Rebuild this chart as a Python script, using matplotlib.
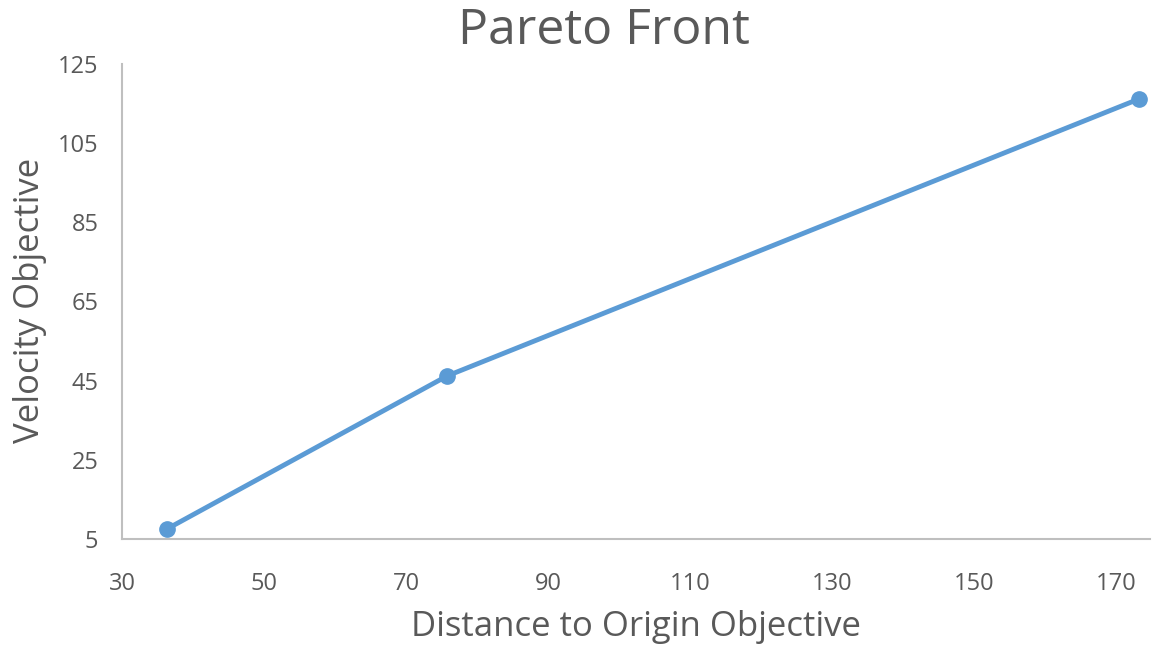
import matplotlib
matplotlib.use('Agg')
import matplotlib.pyplot as plt

# Pareto front points
distance = [36.3, 75.8, 173.3]
velocity = [7.5, 46.2, 116.2]

x_ticks = [30, 50, 70, 90, 110, 130, 150, 170]
y_ticks = [5, 25, 45, 65, 85, 105, 125]

plt.rcParams['font.family'] = ['Open Sans', 'DejaVu Sans']
text_color = '#595959'
line_color = '#5B9BD5'

fig = plt.figure(figsize=(11.62, 6.53), dpi=100)
ax = fig.add_axes([0.105, 0.1746, 0.8847, 0.7274])

ax.plot(distance, velocity, color=line_color, linewidth=3.5,
        marker='o', markersize=11, solid_capstyle='round')

ax.set_xlim(30, 174.8)
ax.set_ylim(5, 125)
ax.set_xticks(x_ticks)
ax.set_yticks(y_ticks)

for side in ['top', 'right']:
    ax.spines[side].set_visible(False)
for side in ['left', 'bottom']:
    ax.spines[side].set_color('#BFBFBF')
    ax.spines[side].set_linewidth(1.5)

ax.tick_params(length=0, labelsize=17, colors=text_color, pad=17)
ax.tick_params(axis='x', pad=24)

fig.text(0.52, 0.952, 'Pareto Front', fontsize=36, color=text_color,
         ha='center', va='center')
ax.set_xlabel('Distance to Origin Objective', fontsize=25, color=text_color, labelpad=10)
fig.text(0.026, 0.54, 'Velocity Objective', fontsize=25, color=text_color,
         rotation=90, ha='center', va='center')

fig.savefig('out.png', dpi=100)
